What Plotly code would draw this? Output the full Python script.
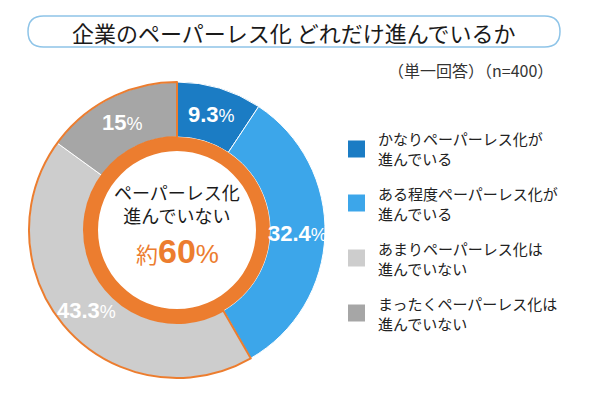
import math
import plotly.graph_objects as go

# survey data (single answer, n=400)
labels = [
    "かなりペーパーレス化が<br>進んでいる",
    "ある程度ペーパーレス化が<br>進んでいる",
    "あまりペーパーレス化は<br>進んでいない",
    "まったくペーパーレス化は<br>進んでいない",
]
values = [9.3, 32.4, 43.3, 15]
colors = ["#1B7CC4", "#3CA6EA", "#CDCDCD", "#A6A6A6"]

# "not progressing" group = last two answers
not_progress = values[2] + values[3]
progress = values[0] + values[1]

ORANGE = "#EC7D2F"
JP = "Noto Sans CJK JP"
NUM = "Liberation Sans"

W, H = 590, 412
cx, cy, R = 177, 182, 148   # donut centre / radius in pixels (y from bottom)
ring_out, ring_in = 93, 79

def dom(r):
    return dict(x=[(cx - r) / W, (cx + r) / W], y=[(cy - r) / H, (cy + r) / H])

def px(x, y):
    # pixel position from top-left -> paper coords
    return x / W, 1 - y / H

fig = go.Figure()

# main donut
fig.add_trace(go.Pie(
    values=values,
    labels=labels,
    textinfo="none",
    marker=dict(colors=colors, line=dict(color="white", width=1)),
    hole=ring_out / R,
    sort=False,
    direction="clockwise",
    domain=dom(R),
    hoverinfo="label+percent",
    showlegend=False,
))

# orange outline around the "not progressing" group
fig.add_trace(go.Pie(
    values=[progress, not_progress],
    textinfo="none",
    marker=dict(colors=["rgba(0,0,0,0)", "rgba(0,0,0,0)"],
                line=dict(color=["rgba(0,0,0,0)", ORANGE], width=[0, 2])),
    hole=ring_out / R,
    sort=False,
    direction="clockwise",
    domain=dom(R),
    hoverinfo="skip",
    showlegend=False,
))

# inner orange ring
fig.add_trace(go.Pie(
    values=[1],
    textinfo="none",
    marker=dict(colors=[ORANGE], line=dict(width=0)),
    hole=ring_in / ring_out,
    domain=dom(ring_out),
    hoverinfo="skip",
    showlegend=False,
))

# rounded title box
x0, y1 = px(28, 16)
x1, y0 = px(560, 47)
rx, ry = 15.5 / W, 15.5 / H
ym = (y0 + y1) / 2
path = (f"M {x0+rx} {y1} L {x1-rx} {y1} Q {x1} {y1} {x1} {ym} "
        f"Q {x1} {y0} {x1-rx} {y0} L {x0+rx} {y0} Q {x0} {y0} {x0} {ym} "
        f"Q {x0} {y1} {x0+rx} {y1} Z")
fig.add_shape(type="path", path=path, xref="paper", yref="paper",
              line=dict(color="#8EC4E8", width=1.5), fillcolor="white", layer="below")

def note(text, x, y, size, color="#1a1a1a", family=JP, xanchor="center", align="center"):
    ax, ay = px(x, y)
    fig.add_annotation(text=text, x=ax, y=ay, xref="paper", yref="paper",
                       xanchor=xanchor, yanchor="middle", align=align, showarrow=False,
                       font=dict(family=family, size=size, color=color))

note("企業のペーパーレス化 どれだけ進んでいるか", 294, 32, 22)
note("（単一回答）（n=400）", 555, 70, 16, color="#333333", xanchor="right")

# percentage labels at the middle of each slice
total = sum(values)
cum = 0
r_lab = 121
for v in values:
    ang = math.radians((cum + v / 2) / total * 360)
    cum += v
    note(f"<b>{v:g}</b><span style='font-size:18px'>%</span>",
         cx + r_lab * math.sin(ang), (H - cy) - r_lab * math.cos(ang),
         22, color="white", family=NUM)

# centre text
note("ペーパーレス化<br>進んでいない", cx, 203, 18)
note(f"<span style='font-family:{JP};font-size:22px'>約</span>"
     f"<b>{round(not_progress, -1):.0f}</b>"
     f"<span style='font-size:26px'>%</span>",
     cx, 251, 34, color=ORANGE, family=NUM)

# legend
leg_y = [149, 203, 258, 313]
for lab, col, ly in zip(labels, colors, leg_y):
    fig.add_shape(type="rect", xref="paper", yref="paper",
                  x0=348 / W, x1=365 / W, y0=1 - (ly + 8.5) / H, y1=1 - (ly - 8.5) / H,
                  fillcolor=col, line=dict(width=0))
    note(lab, 376, ly, 15, color="#222222", xanchor="left", align="left")

fig.update_layout(
    width=W, height=H,
    margin=dict(l=0, r=0, t=0, b=0),
    paper_bgcolor="white",
    plot_bgcolor="white",
)

fig.write_html("out.html", config={"displayModeBar": False},
               post_script="document.body.style.margin='0';")
